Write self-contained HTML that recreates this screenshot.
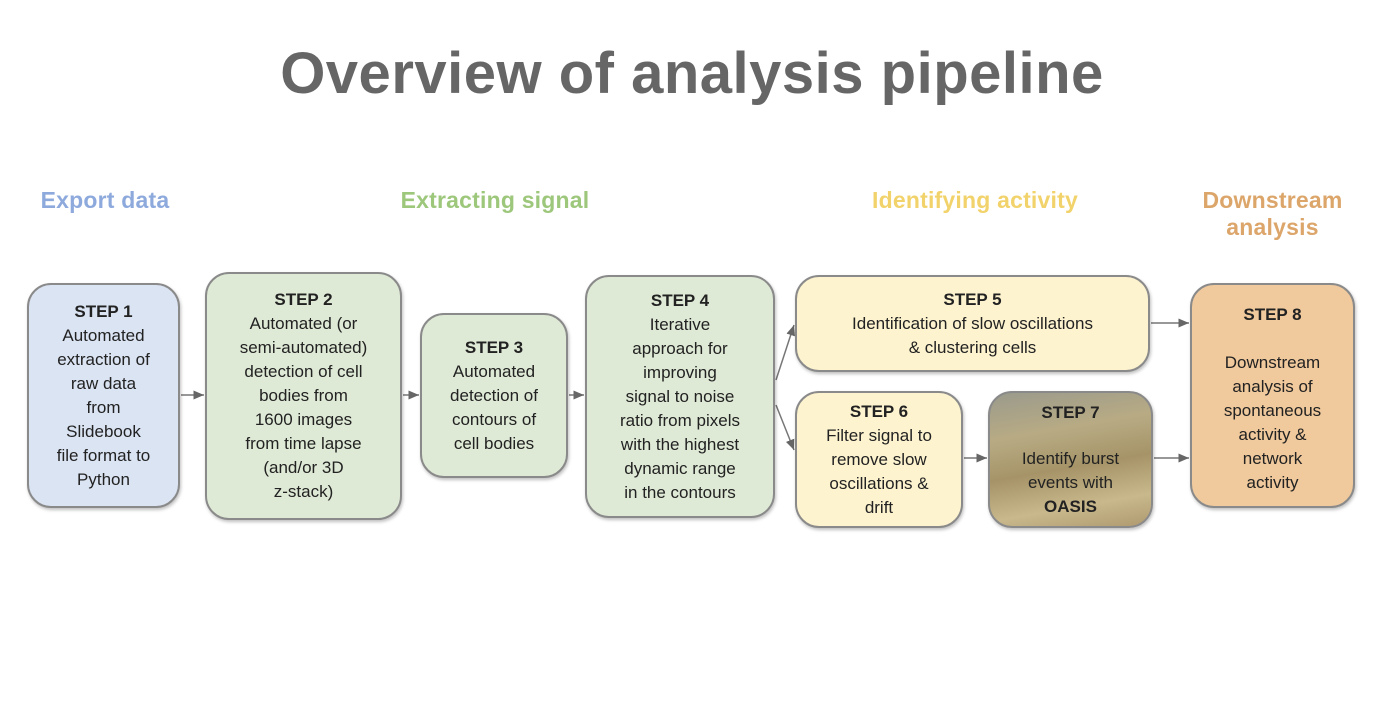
<!DOCTYPE html>
<html><head><style>
body{margin:0;width:1384px;height:712px;background:#fff;font-family:"Liberation Sans",sans-serif;position:relative;overflow:hidden}
.t{position:absolute;left:0;width:1384px;top:40px;text-align:center;font-size:58px;letter-spacing:0.5px;font-weight:bold;color:#666}
.s{position:absolute;font-size:23px;letter-spacing:0.2px;font-weight:bold;text-align:center}
.b{position:absolute;box-sizing:border-box;border:2px solid #8a8a8a;border-radius:24px;display:flex;flex-direction:column;justify-content:center;align-items:center;text-align:center;font-size:17px;line-height:24px;color:#222;white-space:nowrap;box-shadow:1px 2px 3px rgba(0,0,0,.25)}
.g{background:#dfead6}
.y{background:#fdf3cf}
svg{position:absolute;left:0;top:0}
</style></head><body>
<div class="t">Overview of analysis pipeline</div>
<div class="s" style="left:10px;width:190px;top:187px;color:#8eaadd">Export data</div>
<div class="s" style="left:360px;width:270px;top:187px;color:#9dc77b">Extracting signal</div>
<div class="s" style="left:830px;width:290px;top:187px;color:#f2d36b">Identifying activity</div>
<div class="s" style="left:1160px;width:225px;top:187px;line-height:27px;color:#dca66b">Downstream<br>analysis</div>
<svg width="1384" height="712">
<defs><marker id="a" markerWidth="8" markerHeight="8" refX="7" refY="4" orient="auto"><path d="M0,1 L7,4 L0,7z" fill="#666"/></marker></defs>
<g stroke="#777" stroke-width="1.5" fill="none" marker-end="url(#a)">
<line x1="181" y1="395" x2="204" y2="395"/>
<line x1="403" y1="395" x2="419" y2="395"/>
<line x1="569" y1="395" x2="584" y2="395"/>
<line x1="776" y1="380" x2="794" y2="325"/>
<line x1="776" y1="405" x2="794" y2="450"/>
<line x1="1151" y1="323" x2="1189" y2="323"/>
<line x1="964" y1="458" x2="987" y2="458"/>
<line x1="1154" y1="458" x2="1189" y2="458"/>
</g></svg>
<div class="b" style="left:27px;top:283px;width:153px;height:225px;background:#dbe4f3"><b>STEP 1</b>Automated<br>extraction of<br>raw data<br>from<br>Slidebook<br>file format to<br>Python</div>
<div class="b g" style="left:205px;top:272px;width:197px;height:248px"><b>STEP 2</b>Automated (or<br>semi-automated)<br>detection of cell<br>bodies from<br>1600 images<br>from time lapse<br>(and/or 3D<br>z-stack)</div>
<div class="b g" style="left:420px;top:313px;width:148px;height:165px"><b>STEP 3</b>Automated<br>detection of<br>contours of<br>cell bodies</div>
<div class="b g" style="left:585px;top:275px;width:190px;height:243px"><b>STEP 4</b>Iterative<br>approach for<br>improving<br>signal to noise<br>ratio from pixels<br>with the highest<br>dynamic range<br>in the contours</div>
<div class="b y" style="left:795px;top:275px;width:355px;height:97px"><b>STEP 5</b>Identification of slow oscillations<br>&amp; clustering cells</div>
<div class="b y" style="left:795px;top:391px;width:168px;height:137px"><b>STEP 6</b>Filter signal to<br>remove slow<br>oscillations &amp;<br>drift</div>
<div class="b" style="left:988px;top:391px;width:165px;height:137px;background:linear-gradient(170deg,#9a9a8c 0%,#b8ab84 30%,#a69468 55%,#c8b88c 80%,#b09a70 100%);justify-content:flex-start;padding-top:8px"><b>STEP 7</b><div style="height:22px"></div>Identify burst<br>events with<br><b>OASIS</b></div>
<div class="b" style="left:1190px;top:283px;width:165px;height:225px;background:#f0c99c;justify-content:flex-start;padding-top:18px"><b>STEP 8</b><div style="height:24px"></div>Downstream<br>analysis of<br>spontaneous<br>activity &amp;<br>network<br>activity</div>
</body></html>
